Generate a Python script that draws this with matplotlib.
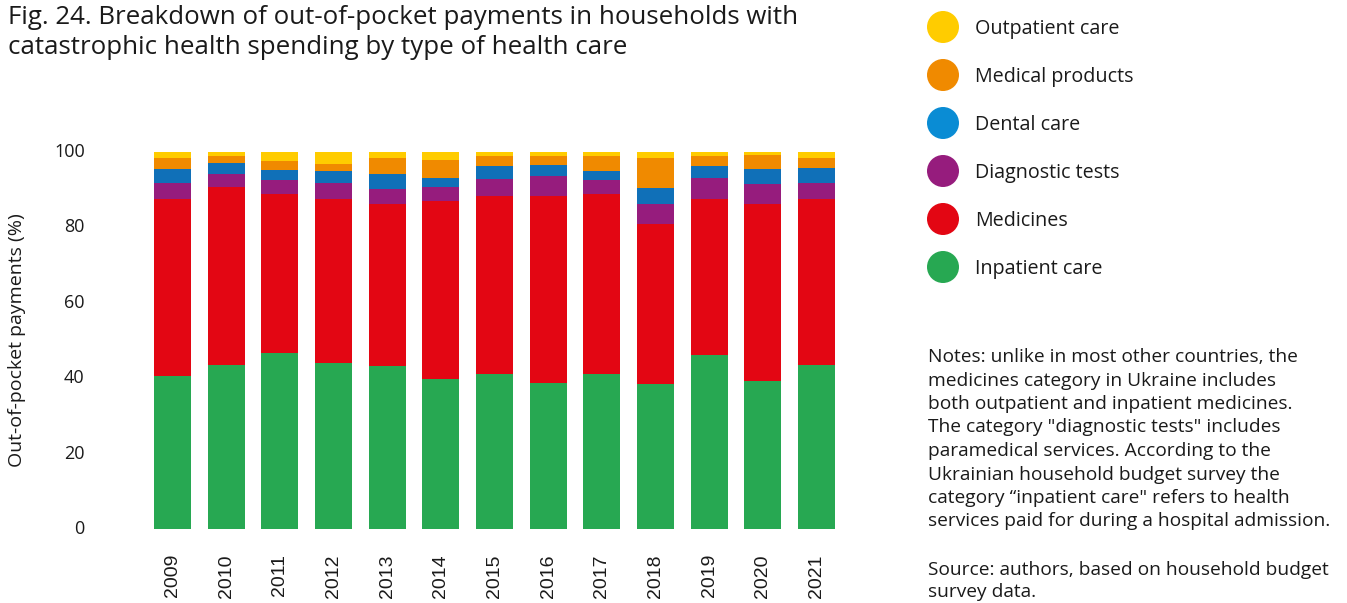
import matplotlib
matplotlib.use("Agg")
import matplotlib.pyplot as plt
import numpy as np

years = ["2009", "2010", "2011", "2012", "2013", "2014", "2015", "2016",
         "2017", "2018", "2019", "2020", "2021"]
inpatient   = [40.6, 43.6, 46.8, 44.1, 43.3, 39.7, 41.0, 38.7, 41.0, 38.4, 46.2, 39.3, 43.6]
medicines   = [46.9, 47.2, 42.0, 43.4, 42.8, 47.3, 47.2, 49.5, 47.8, 42.5, 41.3, 46.8, 43.9]
diagnostic  = [4.2, 3.3, 3.9, 4.2, 4.0, 3.6, 4.6, 5.4, 3.9, 5.2, 5.6, 5.4, 4.2]
dental      = [3.7, 2.9, 2.6, 3.2, 4.0, 2.6, 3.4, 3.0, 2.2, 4.4, 3.1, 3.9, 4.0]
medprod     = [3.0, 1.9, 2.2, 2.0, 4.2, 4.7, 2.7, 2.3, 4.0, 7.8, 2.7, 3.8, 2.6]
outpatient  = [1.6, 1.1, 2.5, 3.1, 1.7, 2.1, 1.1, 1.1, 1.1, 1.7, 1.1, 0.8, 1.7]

series_names = ["Inpatient care", "Medicines", "Diagnostic tests",
                "Dental care", "Medical products", "Outpatient care"]
series_vals = [inpatient, medicines, diagnostic, dental, medprod, outpatient]
bar_colors = ["#27A852", "#E30613", "#961C7D", "#1070B8", "#F08A00", "#FFCC00"]
legend_colors = ["#27A852", "#E30613", "#961C7D", "#0A8CD4", "#F08A00", "#FFCC00"]

FONT = ["Open Sans", "DejaVu Sans"]
plt.rcParams["font.family"] = FONT
TXT = "#1a1a1a"

W, H = 1347, 603
fig = plt.figure(figsize=(W / 100, H / 100), dpi=100)

left_px, right_px, top_px, bot_px = 143, 846, 152, 529
ax = fig.add_axes([left_px / W, 1 - bot_px / H, (right_px - left_px) / W, (bot_px - top_px) / H])

x = np.arange(len(years))
bottom = np.zeros(len(years))
for name, vals, col in zip(series_names, series_vals, bar_colors):
    v = np.array(vals)
    ax.bar(x, v, bottom=bottom, width=0.69, color=col, edgecolor="none", label=name)
    bottom += v

ax.set_xlim(-0.55, len(years) - 0.45)
ax.set_ylim(0, 100)
ax.set_yticks([0, 20, 40, 60, 80, 100])
ax.set_yticklabels(["0", "20", "40", "60", "80", "100"])
ax.tick_params(axis="y", length=0, pad=42, labelsize=13, labelcolor=TXT)
for lbl in ax.get_yticklabels():
    lbl.set_va("center")
ax.set_xticks(x)
ax.set_xticklabels(years, rotation=90, fontsize=14, color=TXT, family=["Liberation Sans", "DejaVu Sans"])
ax.tick_params(axis="x", length=0, pad=18)
for s in ax.spines.values():
    s.set_visible(False)
ax.set_ylabel("Out-of-pocket payments (%)", fontsize=14, color=TXT)
ax.yaxis.set_label_coords(-(left_px - 17) / (right_px - left_px), 0.5)
ax.yaxis.label.set_va("center")

ov = fig.add_axes([0, 0, 1, 1])
ov.set_xlim(0, W)
ov.set_ylim(H, 0)
ov.axis("off")

ov.text(8, 18, "Fig. 24. Breakdown of out-of-pocket payments in households with",
        fontsize=18.6, color=TXT, va="center", ha="left")
ov.text(8, 48, "catastrophic health spending by type of health care",
        fontsize=18.6, color=TXT, va="center", ha="left")

leg_y = [267, 219, 171, 123, 75, 27]
for name, col, yy in zip(series_names, legend_colors, leg_y):
    ov.add_patch(matplotlib.patches.Ellipse((943, yy), 32, 32, color=col, lw=0))
    ov.text(975, yy + 2, name, fontsize=14.2, color=TXT, va="center", ha="left")

notes = ["Notes: unlike in most other countries, the",
         "medicines category in Ukraine includes",
         "both outpatient and inpatient medicines.",
         "The category \"diagnostic tests\" includes",
         "paramedical services. According to the",
         "Ukrainian household budget survey the",
         "category \u201cinpatient care\" refers to health",
         "services paid for during a hospital admission."]
for i, line in enumerate(notes):
    ov.text(928, 357 + i * 23.5, line, fontsize=13.8, color=TXT, va="center", ha="left")
ov.text(928, 570, "Source: authors, based on household budget", fontsize=13.8, color=TXT, va="center", ha="left")
ov.text(928, 592, "survey data.", fontsize=13.8, color=TXT, va="center", ha="left")

fig.savefig("out.png", dpi=100)
